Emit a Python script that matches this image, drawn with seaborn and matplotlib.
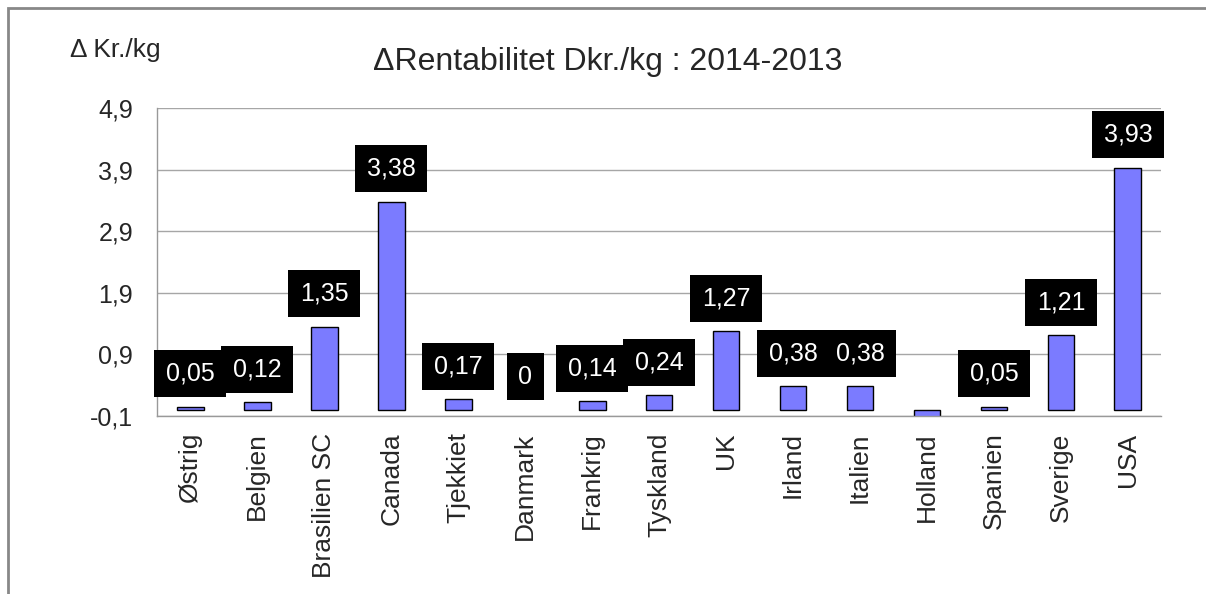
import matplotlib
matplotlib.use('Agg')
from matplotlib import pyplot as plt
from matplotlib.patches import Rectangle
import seaborn as sns
import pandas as pd

lande = ['Østrig', 'Belgien', 'Brasilien SC', 'Canada', 'Tjekkiet', 'Danmark', 'Frankrig',
         'Tyskland', 'UK', 'Irland', 'Italien', 'Holland', 'Spanien', 'Sverige', 'USA']
delta_rent = [0.05, 0.12, 1.35, 3.38, 0.17, 0.0, 0.14, 0.24, 1.27, 0.38, 0.38, -0.15, 0.05, 1.21, 3.93]
y_ticks = [-0.1, 0.9, 1.9, 2.9, 3.9, 4.9]

sns.set_style('white')
plt.rcParams['font.family'] = ['Liberation Sans', 'DejaVu Sans']

def komma(v, dec=2):
    '''format a number the danish way'''
    if v == 0:
        return '0'
    return f'{v:.{dec}f}'.replace('.', ',')

df = pd.DataFrame({'land': lande, 'delta': delta_rent})

fig = plt.figure(figsize=(12.06, 5.94), dpi=100)
ax = fig.add_axes([0.130, 0.300, 0.833, 0.518])

sns.barplot(data=df, x='land', y='delta', ax=ax, color='#7b7bff', saturation=1,
            edgecolor='black', linewidth=1, width=0.4)
# a zero bar shows no outline
for p in ax.patches:
    if p.get_height() == 0:
        p.set_linewidth(0)

ax.set_xlim(-0.5, len(lande) - 0.5)
ax.set_ylim(y_ticks[0], y_ticks[-1])
ax.set_yticks(y_ticks)
ax.set_yticklabels([komma(t, 1) for t in y_ticks], fontsize=18)
ax.set_xticks(range(len(lande)))
ax.set_xticklabels(lande, rotation=90, fontsize=19)
ax.set_xticks([i - 0.5 for i in range(len(lande) + 1)], minor=True)
ax.tick_params(axis='x', which='major', length=0, pad=12)
ax.tick_params(axis='x', which='minor', length=7, color='#999999', width=1)
ax.tick_params(axis='y', length=7, color='#999999', width=1, pad=10)
ax.set_xlabel('')
ax.set_ylabel('')

ax.grid(axis='y', color='#a6a6a6', linewidth=1)
ax.set_axisbelow(True)
for s in ['top', 'right']:
    ax.spines[s].set_visible(False)
for s in ['left', 'bottom']:
    ax.spines[s].set_color('#999999')
    ax.spines[s].set_linewidth(1)

# data labels in black boxes
for i, v in enumerate(delta_rent):
    if v < y_ticks[0]:
        continue
    ax.annotate(komma(v), (i, v), xytext=(0, 15), textcoords='offset points',
                ha='center', va='bottom', fontsize=18, color='white',
                bbox=dict(boxstyle='square,pad=0.46', fc='black', ec='none'))

fig.text(0.504, 0.896, '\u0394Rentabilitet Dkr./kg : 2014-2013', ha='center', va='center', fontsize=23)
fig.text(0.058, 0.916, '\u0394 Kr./kg', ha='left', va='center', fontsize=19)

# frame of the original chart area (cut off at right and bottom)
fig.patches.append(Rectangle((8 / 1206, -0.2), 1.2, 1.2 - 8 / 594,
                             transform=fig.transFigure, fill=False, ec='#888888', lw=2))

fig.savefig('out.png', dpi=100)
